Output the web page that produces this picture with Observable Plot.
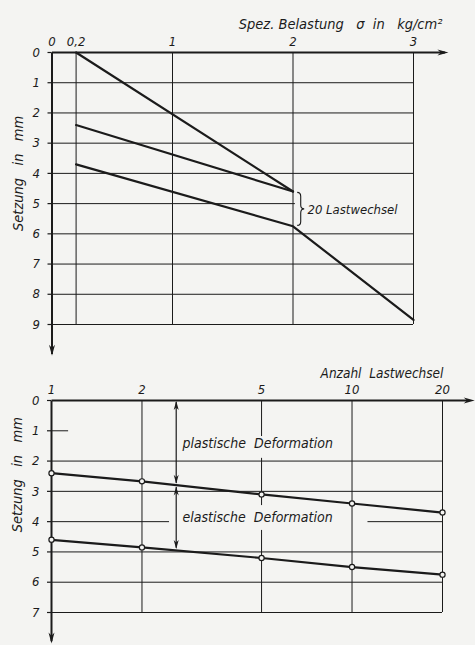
<!DOCTYPE html>
<html><head><meta charset="utf-8">
<script src="https://cdn.jsdelivr.net/npm/d3@7"></script>
<script src="https://cdn.jsdelivr.net/npm/@observablehq/plot@0.6"></script>
<style>
html,body{margin:0;padding:0;background:#f4f4f2;}
#chart{width:475px;height:645px;overflow:hidden}
#chart svg{display:block}
</style></head><body><div id="chart"></div>
<script>
// ---------- data: upper diagram (settlement vs. specific load) ----------
const sigmaTicks = [0, 0.2, 1, 2, 3];
const sigmaTickLabels = ["0", "0,2", "1", "2", "3"];
const settleTicksTop = [0, 1, 2, 3, 4, 5, 6, 7, 8, 9];
const firstLoadSigma = [0.2, 2];
const firstLoadSettle = [0, 4.6];
const reloadSigma = [0.2, 2];
const reloadSettle = [2.4, 4.6];
const afterCyclesSigma = [0.2, 2, 3];
const afterCyclesSettle = [3.7, 5.75, 8.85];
const braceLabel = "20 Lastwechsel";

// ---------- data: lower diagram (settlement vs. number of load cycles) ----------
const cycles = [1, 2, 5, 10, 20];
const cycleTickLabels = ["1", "2", "5", "10", "20"];
const settleTicksBottom = [0, 1, 2, 3, 4, 5, 6, 7];
const plasticSettle = [2.4, 2.67, 3.1, 3.4, 3.7];
const totalSettle = [4.6, 4.85, 5.2, 5.5, 5.75];

// ---------- grid segments (as drawn in the original) ----------
const topGridV = [0.2, 1, 2, 3];
const topGridH = [
  {s: 1, a: 0, b: 3}, {s: 2, a: 0, b: 3}, {s: 3, a: 0, b: 3}, {s: 4, a: 0, b: 3},
  {s: 5, a: 0, b: 2.02}, {s: 6, a: 0, b: 3}, {s: 7, a: 0, b: 3}, {s: 8, a: 0, b: 3},
  {s: 9, a: 0, b: 3}
];
const bottomGridH = [
  {s: 1, a: 1, b: 1.14}, {s: 2, a: 1, b: 20}, {s: 3, a: 1, b: 20},
  {s: 4, a: 1, b: 2.47}, {s: 4, a: 11.3, b: 20},
  {s: 5, a: 1, b: 20}, {s: 6, a: 1, b: 20}, {s: 7, a: 1, b: 20}
];
const bottomGridV = [
  {n: 2, a: 0, b: 7}, {n: 5, a: 0, b: 1.19}, {n: 5, a: 1.91, b: 3.47},
  {n: 5, a: 4.29, b: 7}, {n: 10, a: 0, b: 7}, {n: 20, a: 0, b: 7}
];

// ---------- rendering ----------
const ink = "#1b1b1b";
const paper = "#f4f4f2";
const FONT = "'DejaVu Sans Condensed', 'DejaVu Sans', sans-serif";

function head(dir, L, W) {
  return {
    draw(ctx) {
      const pts = {
        right: [[0, 0], [-L, -W / 2], [-L * 0.7, 0], [-L, W / 2]],
        down: [[0, 0], [-W / 2, -L], [0, -L * 0.7], [W / 2, -L]],
        up: [[0, 0], [-W / 2, L], [0, L * 0.7], [W / 2, L]]
      }[dir];
      ctx.moveTo(pts[0][0], pts[0][1]);
      for (let i = 1; i < pts.length; i++) ctx.lineTo(pts[i][0], pts[i][1]);
      ctx.closePath();
    }
  };
}
const axisRight = head("right", 11, 6);
const axisDown = head("down", 11, 6);
const smallUp = head("up", 9, 5);
const smallDown = head("down", 9, 5);
// curly brace glyph (stroked), height h, opening to the left
function braceSymbol(h) {
  return {
    draw(ctx) {
      const t = h / 2;
      ctx.moveTo(0, -t);
      ctx.quadraticCurveTo(3.5, -t, 3.5, -t + 4);
      ctx.lineTo(3.5, -4);
      ctx.quadraticCurveTo(3.5, 0, 7, 0);
      ctx.quadraticCurveTo(3.5, 0, 3.5, 4);
      ctx.lineTo(3.5, t - 4);
      ctx.quadraticCurveTo(3.5, t, 0, t);
    }
  };
}

const baseStyle = `background: transparent; font-family: ${FONT}; font-style: italic; color: ${ink};`;
const textOpts = {fontFamily: FONT, fontStyle: "italic", fill: ink};

// upper chart
const upper = Plot.plot({
  width: 475, height: 360,
  marginLeft: 51.5, marginRight: 62, marginTop: 52, marginBottom: 36,
  style: baseStyle,
  x: {domain: [0, 3], axis: null},
  y: {domain: [0, 9], reverse: true, axis: null},
  marks: [
    Plot.ruleX(topGridV, {x: d => d, y1: 0, y2: 9, stroke: ink, strokeWidth: 1}),
    Plot.ruleY(topGridH, {y: "s", x1: "a", x2: "b", stroke: ink, strokeWidth: 1}),
    Plot.axisY({anchor: "left", ticks: settleTicksTop, tickSize: 4, tickPadding: 8,
      tickFormat: d => String(d), fontSize: 13, fontWeight: 500, ...textOpts, stroke: ink, strokeWidth: 1.2}),
    Plot.axisX({anchor: "top", ticks: sigmaTicks, tickSize: 0, tickPadding: 7,
      tickFormat: d => sigmaTickLabels[sigmaTicks.indexOf(d)], fontSize: 13, fontWeight: 500, ...textOpts}),
    // axes with arrows
    Plot.link([{x1: 0, y1: 0, x2: 3.26, y2: 0}], {x1: "x1", y1: "y1", x2: "x2", y2: "y2", stroke: ink, strokeWidth: 2}),
    Plot.link([{x1: 0, y1: 0, x2: 0, y2: 9.98}], {x1: "x1", y1: "y1", x2: "x2", y2: "y2", stroke: ink, strokeWidth: 2}),
    Plot.dot([{x: 3.29, y: 0}], {x: "x", y: "y", symbol: axisRight, fill: ink, stroke: null, r: 4}),
    Plot.dot([{x: 0, y: 10.03}], {x: "x", y: "y", symbol: axisDown, fill: ink, stroke: null, r: 4}),
    // curves
    Plot.line(firstLoadSigma.map((x, i) => ({x, y: firstLoadSettle[i]})), {x: "x", y: "y", stroke: ink, strokeWidth: 2.2}),
    Plot.line(reloadSigma.map((x, i) => ({x, y: reloadSettle[i]})), {x: "x", y: "y", stroke: ink, strokeWidth: 2.2}),
    Plot.line(afterCyclesSigma.map((x, i) => ({x, y: afterCyclesSettle[i]})), {x: "x", y: "y", stroke: ink, strokeWidth: 2.2}),
    // brace + label
    Plot.dot([{x: 2.035, y: (reloadSettle[1] + afterCyclesSettle[1]) / 2}], {x: "x", y: "y",
      symbol: braceSymbol(33), fill: "none", stroke: ink, strokeWidth: 1.1, r: 4}),
    Plot.text([{x: 2.12, y: 5.2}], {x: "x", y: "y", text: () => braceLabel, textAnchor: "start", fontSize: 13, ...textOpts}),
    // titles
    Plot.text([{x: 1.55, y: -0.92}], {x: "x", y: "y", text: () => "Spez.\u00A0Belastung\u00A0\u00A0\u00A0σ\u00A0\u00A0in\u00A0\u00A0\u00A0kg/cm²", textAnchor: "start", fontSize: 14.5, ...textOpts}),
    Plot.text([{y: 4.0}], {y: "y", frameAnchor: "left", dx: -34, rotate: -90, textAnchor: "middle",
      text: () => "Setzung\u00A0\u00A0\u00A0in\u00A0\u00A0\u00A0mm", fontSize: 14.5, ...textOpts})
  ]
});

// lower chart
const lower = Plot.plot({
  width: 475, height: 285,
  marginLeft: 51, marginRight: 33, marginTop: 40, marginBottom: 33,
  style: baseStyle,
  x: {type: "log", domain: [1, 20], axis: null},
  y: {domain: [0, 7], reverse: true, axis: null},
  marks: [
    Plot.ruleX(bottomGridV, {x: "n", y1: "a", y2: "b", stroke: ink, strokeWidth: 1}),
    Plot.ruleY(bottomGridH, {y: "s", x1: "a", x2: "b", stroke: ink, strokeWidth: 1}),
    Plot.axisY({anchor: "left", ticks: settleTicksBottom, tickSize: 4, tickPadding: 8,
      tickFormat: d => String(d), fontSize: 13, fontWeight: 500, ...textOpts, stroke: ink, strokeWidth: 1.2}),
    Plot.axisX({anchor: "top", ticks: cycles, tickSize: 0, tickPadding: 7,
      tickFormat: d => cycleTickLabels[cycles.indexOf(d)], fontSize: 13, fontWeight: 500, ...textOpts}),
    Plot.link([{x1: 1, y1: 0, x2: 24.5, y2: 0}], {x1: "x1", y1: "y1", x2: "x2", y2: "y2", stroke: ink, strokeWidth: 2}),
    Plot.link([{x1: 1, y1: 0, x2: 1, y2: 7.95}], {x1: "x1", y1: "y1", x2: "x2", y2: "y2", stroke: ink, strokeWidth: 2}),
    Plot.dot([{x: 25.6, y: 0}], {x: "x", y: "y", symbol: axisRight, fill: ink, stroke: null, r: 4}),
    Plot.dot([{x: 1, y: 8.02}], {x: "x", y: "y", symbol: axisDown, fill: ink, stroke: null, r: 4}),
    // double arrows
    Plot.link([{x: 2.6, a: 0.05, b: 2.72}, {x: 2.6, a: 2.86, b: 4.86}], {x1: "x", x2: "x", y1: "a", y2: "b", stroke: ink, strokeWidth: 1.2}),
    Plot.dot([{x: 2.6, y: 0.02}, {x: 2.6, y: 2.84}], {x: "x", y: "y", symbol: smallUp, fill: ink, stroke: null, r: 4}),
    Plot.dot([{x: 2.6, y: 2.75}, {x: 2.6, y: 4.9}], {x: "x", y: "y", symbol: smallDown, fill: ink, stroke: null, r: 4}),
    // curves
    Plot.line(cycles.map((x, i) => ({x, y: plasticSettle[i]})), {x: "x", y: "y", stroke: ink, strokeWidth: 2.2}),
    Plot.line(cycles.map((x, i) => ({x, y: totalSettle[i]})), {x: "x", y: "y", stroke: ink, strokeWidth: 2.2}),
    Plot.dot(cycles.map((x, i) => ({x, y: plasticSettle[i]})), {x: "x", y: "y", r: 2.6, fill: paper, stroke: ink, strokeWidth: 1.2}),
    Plot.dot(cycles.map((x, i) => ({x, y: totalSettle[i]})), {x: "x", y: "y", r: 2.6, fill: paper, stroke: ink, strokeWidth: 1.2}),
    // labels
    Plot.text([{x: 2.73, y: 1.42, t: "plastische\u00A0\u00A0Deformation"}, {x: 2.73, y: 3.87, t: "elastische\u00A0\u00A0Deformation"}],
      {x: "x", y: "y", text: "t", textAnchor: "start", fontSize: 14, ...textOpts}),
    Plot.text([{x: 7.86, y: -0.88}], {x: "x", y: "y", text: () => "Anzahl\u00A0\u00A0Lastwechsel", textAnchor: "start", fontSize: 13.5, ...textOpts}),
    Plot.text([{y: 2.45}], {y: "y", frameAnchor: "left", dx: -34, rotate: -90, textAnchor: "middle",
      text: () => "Setzung\u00A0\u00A0\u00A0in\u00A0\u00A0\u00A0mm", fontSize: 14.5, ...textOpts})
  ]
});

const root = document.getElementById("chart");
root.appendChild(upper);
root.appendChild(lower);
</script>
</body></html>
